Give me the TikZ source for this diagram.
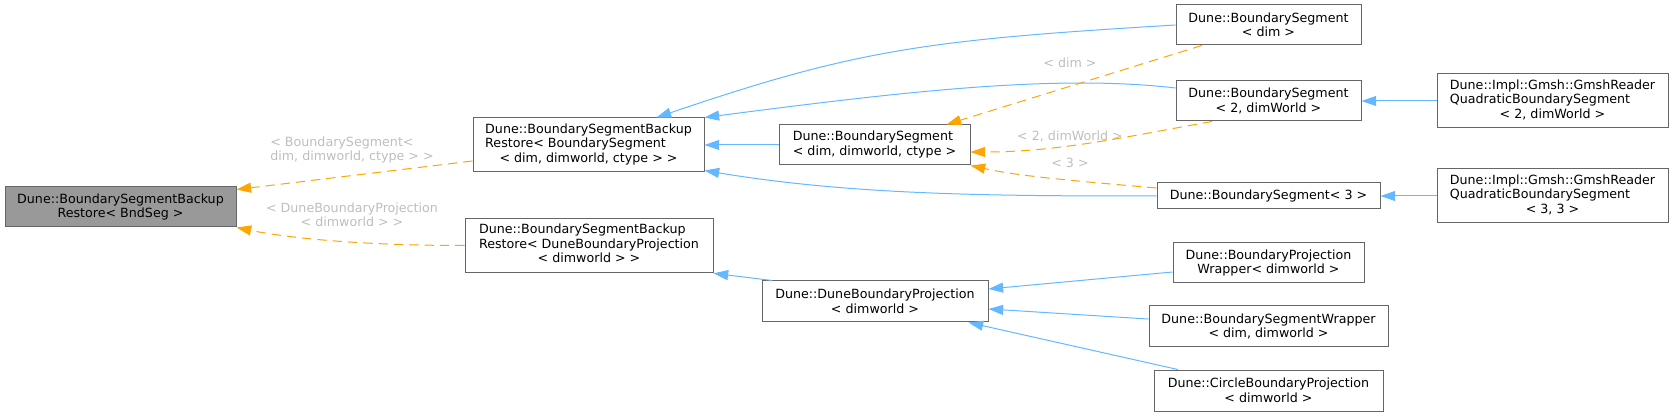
\documentclass[tikz,border=0pt]{standalone}
\usepackage{fontspec}
\setmainfont{DejaVu Sans}
\usetikzlibrary{arrows.meta}
\definecolor{edgeblue}{HTML}{63B8FF}
\definecolor{tmpl}{HTML}{FFA500}
\definecolor{lbl}{HTML}{BEBEBE}
\definecolor{boxline}{HTML}{666666}
\definecolor{rootfill}{HTML}{999999}

% left aligned rows, last row may be centred
\newcommand{\lrows}[1]{\begin{tabular}{@{}l@{}}#1\end{tabular}}
\newcommand{\crow}[1]{\multicolumn{1}{@{}c@{}}{#1}}

\begin{document}
\begin{tikzpicture}[x=0.75pt, y=-0.75pt,
  cls/.style={draw=boxline, fill=white, line width=0.75pt, inner xsep=3pt,
    inner ysep=2pt, font=\fontsize{9.5}{10.9}\selectfont, align=center},
  inh/.style={draw=edgeblue, line width=0.75pt,
    -{Triangle[length=11pt, width=7.5pt]}},
  tpl/.style={inh, draw=tmpl, dash pattern=on 7pt off 4.5pt},
  tlabel/.style={text=lbl, font=\fontsize{9.5}{10.9}\selectfont, inner sep=0pt}]
  \useasboundingbox (0,0) rectangle (1673,416);

  % Class boxes
  \node[cls, fill=rootfill, minimum width=173.25pt, minimum height=30pt]
    (root) at (120.5,207) {Dune::BoundarySegmentBackup\\Restore< BndSeg >};
  \node[cls, minimum width=173.25pt, minimum height=40.5pt] (bsbr1) at (588.5,145)
    {\lrows{Dune::BoundarySegmentBackup\\Restore< BoundarySegment\\\crow{< dim, dimworld, ctype > >}}};
  \node[cls, minimum width=186pt, minimum height=41pt] (bsbr2) at (589,245.5)
    {\lrows{Dune::BoundarySegmentBackup\\Restore< DuneBoundaryProjection\\\crow{< dimworld > >}}};
  \node[cls, minimum width=143.25pt, minimum height=30pt] (bsdc) at (874.5,145)
    {\lrows{Dune::BoundarySegment\\< dim, dimworld, ctype >}};
  \node[cls, minimum width=138.75pt, minimum height=30pt] (bsd) at (1268.5,25)
    {Dune::BoundarySegment\\< dim >};
  \node[cls, minimum width=138.75pt, minimum height=30pt] (bs2) at (1268.5,101)
    {Dune::BoundarySegment\\< 2, dimWorld >};
  \node[cls, minimum width=167.25pt, minimum height=19.5pt] (bs3) at (1268.5,196)
    {Dune::BoundarySegment< 3 >};
  \node[cls, minimum width=173.25pt, minimum height=40.5pt] (gmsh2) at (1552.5,101)
    {\lrows{Dune::Impl::Gmsh::GmshReader\\QuadraticBoundarySegment\\\crow{< 2, dimWorld >}}};
  \node[cls, minimum width=173.25pt, minimum height=40.5pt] (gmsh3) at (1552.5,196)
    {\lrows{Dune::Impl::Gmsh::GmshReader\\QuadraticBoundarySegment\\\crow{< 3, 3 >}}};
  \node[cls, minimum width=169.5pt, minimum height=30.75pt] (dbp) at (875,301.5)
    {Dune::DuneBoundaryProjection\\< dimworld >};
  \node[cls, minimum width=143.25pt, minimum height=30pt] (bpw) at (1268.5,263)
    {Dune::BoundaryProjection\\Wrapper< dimworld >};
  \node[cls, minimum width=179.25pt, minimum height=30.75pt] (bsw) at (1268.5,326.5)
    {Dune::BoundarySegmentWrapper\\< dim, dimworld >};
  \node[cls, minimum width=171.75pt, minimum height=30.75pt] (cbp) at (1268.5,390.5)
    {Dune::CircleBoundaryProjection\\< dimworld >};

  % Inheritance edges
  \foreach \a/\b in {gmsh2/bs2, gmsh3/bs3, bsdc/bsbr1} {
    \draw[inh] (\a.west) -- (\b.east);
  }
  \draw[inh] (bsd.west) .. controls +(-250,15) and +(200,-68) .. ([xshift=51pt]bsbr1.north);
  \draw[inh] ([yshift=9.75pt]bs2.west) .. controls +(-120,-14) and +(200,-26) .. (bsbr1.north east);
  \draw[inh] (bs3.west) .. controls +(-157,0) and +(150,25) .. ([yshift=1.5pt]bsbr1.south east);
  \draw[inh] ([xshift=8pt]dbp.north west) -- (bsbr2.south east);
  \draw[inh] ([yshift=-6.75pt]bpw.west) -- ([yshift=9.4pt]dbp.east);
  \draw[inh] ([yshift=5.6pt]bsw.west) -- ([yshift=-5.6pt]dbp.east);
  \draw[inh] ([xshift=-68pt]cbp.north) -- ([xshift=-15pt]dbp.south east);

  % Template instance edges (dashed)
  \draw[tpl] ([yshift=-12pt]bsbr1.west) -- ([yshift=-2.25pt]root.north east);
  \draw[tpl] (bsbr2.west) .. controls +(-115,0) and +(44,9) .. (root.south east);
  \draw[tpl] ([xshift=-50pt]bsd.south) -- ([xshift=54pt]bsdc.north);
  \draw[tpl] ([xshift=-42.4pt]bs2.south) .. controls +(-80,14) and +(90,0) .. ([yshift=-5.25pt]bsdc.east);
  \draw[tpl] ([yshift=6pt]bs3.west) .. controls +(-80,-7) and +(50,11) .. (bsdc.south east);

  % Edge labels
  \node[tlabel, align=left] (l1) at (352,150) {< BoundarySegment<\\dim, dimworld, ctype > >};
  \node[tlabel, align=center] (l2) at (352,215) {< DuneBoundaryProjection\\< dimworld > >};
  \node[tlabel] (l3) at (1070,63) {< dim >};
  \node[tlabel] (l4) at (1070,136) {< 2, dimWorld >};
  \node[tlabel] (l5) at (1070,163) {< 3 >};
\end{tikzpicture}
\end{document}
